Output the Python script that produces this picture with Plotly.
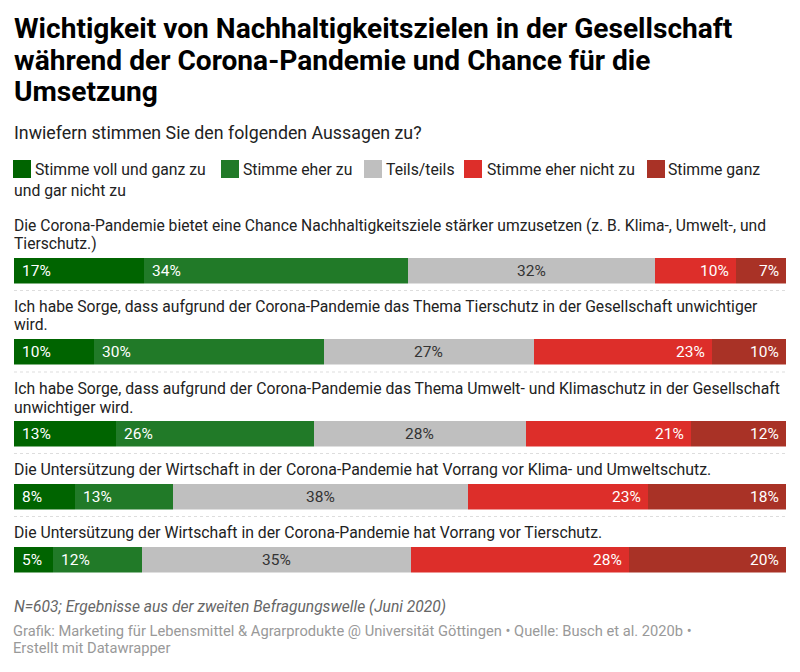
import plotly.graph_objects as go

W, H = 800, 672
title_lines = ["Wichtigkeit von Nachhaltigkeitszielen in der Gesellschaft",
               "während der Corona-Pandemie und Chance für die",
               "Umsetzung"]
subtitle = "Inwiefern stimmen Sie den folgenden Aussagen zu?"
series_names = ["Stimme voll und ganz zu", "Stimme eher zu", "Teils/teils",
                "Stimme eher nicht zu", "Stimme ganz und gar nicht zu"]
questions = [
    ["Die Corona-Pandemie bietet eine Chance Nachhaltigkeitsziele stärker umzusetzen (z. B. Klima-, Umwelt-, und", "Tierschutz.)"],
    ["Ich habe Sorge, dass aufgrund der Corona-Pandemie das Thema Tierschutz in der Gesellschaft unwichtiger", "wird."],
    ["Ich habe Sorge, dass aufgrund der Corona-Pandemie das Thema Umwelt- und Klimaschutz in der Gesellschaft", "unwichtiger wird."],
    ["Die Untersützung der Wirtschaft in der Corona-Pandemie hat Vorrang vor Klima- und Umweltschutz."],
    ["Die Untersützung der Wirtschaft in der Corona-Pandemie hat Vorrang vor Tierschutz."],
]
voll = [16.8, 10.4, 13.2, 7.9, 5.1]
eher = [34.3, 29.7, 25.6, 12.7, 11.5]
teils = [31.9, 27.2, 27.5, 38.2, 34.8]
nicht = [10.5, 23.1, 21.4, 23.3, 28.2]
gar_nicht = [6.5, 9.6, 12.3, 17.9, 20.4]
labels = [[17, 10, 13, 8, 5], [34, 30, 26, 13, 12], [32, 27, 28, 38, 35],
          [10, 23, 21, 23, 28], [7, 10, 12, 18, 20]]
footnote = "N=603; Ergebnisse aus der zweiten Befragungswelle (Juni 2020)"
source_lines = ["Grafik: Marketing für Lebensmittel & Agrarprodukte @ Universität Göttingen • Quelle: Busch et al. 2020b •",
                "Erstellt mit Datawrapper"]

colors = ["#006400", "#217a28", "#bfbfbf", "#dd2e2a", "#a93226"]
label_colors = ["#ffffff", "#ffffff", "#333333", "#ffffff", "#ffffff"]
values = [voll, eher, teils, nicht, gar_nicht]
FONT = "Roboto"
X0, X1 = 14, 786
bar_tops = [258, 339, 421, 484, 547]
BAR_H = 25.5
q_line_y = [[225.5, 243.5], [306.5, 325], [388.5, 407], [469], [532]]
q_size = [15.65, 15.7, 15.76, 15.85, 15.76]
sep_y = [290.5, 372, 453.5, 516.5]

fig = go.Figure()
annotations, shapes = [], []

def txt(x, y, s, size, color="#222222", **kw):
    annotations.append(dict(x=x / W, y=1 - y / H, xref="paper", yref="paper", text=s, showarrow=False,
                            xanchor="left", yanchor="middle", align="left", borderpad=0,
                            font=dict(family=FONT, size=size, color=color), **kw))

yaxes = {}
for r, q in enumerate(questions):
    name = "y" if r == 0 else f"y{r+1}"
    key = "yaxis" if r == 0 else f"yaxis{r+1}"
    yaxes[key] = dict(domain=[1 - (bar_tops[r] + BAR_H) / H, 1 - bar_tops[r] / H], visible=False,
                      type="category", anchor="x", fixedrange=True)
    cum = 0
    for s, sname in enumerate(series_names):
        v = values[s][r]
        fig.add_trace(go.Bar(x=[v], y=[" ".join(q)], base=[cum], orientation="h", yaxis=name, name=sname,
                             marker=dict(color=colors[s], line_width=0), showlegend=False, width=1))
        if s < 2:
            ax, anchor, shift = cum, "left", 6
        elif s == 2:
            ax, anchor, shift = cum + v / 2, "center", 0
        else:
            ax, anchor, shift = min(cum + v, 100), "right", -5
        annotations.append(dict(x=ax, y=" ".join(q), xref="x", yref=name, text=f"{labels[s][r]}%", showarrow=False,
                                xanchor=anchor, xshift=shift, yanchor="middle",
                                font=dict(family=FONT, size=15.5, color=label_colors[s])))
        cum += v
    for ly, line in zip(q_line_y[r], q):
        txt(13, ly, line, q_size[r])

for y_, line in zip([29, 60, 92], title_lines):
    txt(13, y_, f"<b>{line}</b>", 28.1, "#000000")
txt(13, 133, subtitle, 17.8)

sw_x = [13, 221, 364, 464, 647]
tx_x = [34, 242, 385, 486, 667]
leg_txt = series_names[:4] + ["Stimme ganz"]
for s in range(5):
    shapes.append(dict(type="rect", xref="paper", yref="paper", x0=sw_x[s] / W, x1=(sw_x[s] + 18) / W,
                       y0=1 - 178 / H, y1=1 - 160 / H, fillcolor=colors[s], line_width=0))
    txt(tx_x[s], 169, leg_txt[s], 15.75)
txt(13, 190.5, "und gar nicht zu", 15.75)

for y_ in sep_y:
    shapes.append(dict(type="line", xref="paper", yref="paper", x0=X0 / W, x1=X1 / W,
                       y0=1 - y_ / H, y1=1 - y_ / H, line=dict(color="#dddddd", width=1, dash="dot")))

txt(13, 607, f"<i>{footnote}</i>", 15.6, "#666666")
for y_, line in zip([631, 648], source_lines):
    txt(12, y_, line, 14.7, "#999999")

fig.update_layout(
    width=W, height=H, autosize=False, margin=dict(l=0, r=0, t=0, b=0),
    paper_bgcolor="white", plot_bgcolor="white", barmode="overlay", bargap=0,
    xaxis=dict(domain=[X0 / W, X1 / W], range=[0, 100], visible=False, fixedrange=True),
    annotations=annotations, shapes=shapes, showlegend=False, font=dict(family=FONT), **yaxes)
fig.write_html("out.html", config=dict(displayModeBar=False),
               post_script="document.body.style.margin='0';document.documentElement.style.overflow='hidden';")
